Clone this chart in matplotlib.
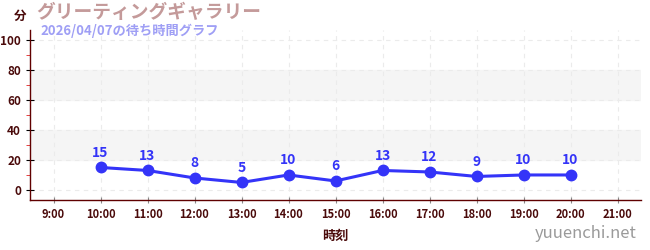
import matplotlib
matplotlib.use("Agg")
import matplotlib.pyplot as plt
from matplotlib.ticker import MultipleLocator

plt.rcParams['font.family'] = ['Noto Sans CJK JP', 'DejaVu Sans']

# data
hours = [10, 11, 12, 13, 14, 15, 16, 17, 18, 19, 20]
waits = [15, 13, 8, 5, 10, 6, 13, 12, 9, 10, 10]
tick_hours = list(range(9, 22))
tick_labels = [f"{h}:00" for h in tick_hours]

title = "グリーティングギャラリー"
subtitle = "2026/04/07の待ち時間グラフ"

blue = "#3434f8"
maroon = "#4a0a0a"

fig = plt.figure(figsize=(6.5, 2.5), dpi=100)
ax = fig.add_axes([30/650, 50/250, 611/650, 170/250])

ax.set_xlim(8.5, 21.5)
ax.set_ylim(-6.7, 106.7)

# alternating background bands
for lo in (20, 60):
    ax.axhspan(lo, lo + 20, color="#f5f5f5", zorder=0)

ax.set_xticks(tick_hours)
ax.set_xticklabels(tick_labels)
ax.yaxis.set_major_locator(MultipleLocator(20))
ax.yaxis.set_minor_locator(MultipleLocator(10))
ax.grid(True, which="major", color="#ebebeb", linestyle=(0, (4, 4)), linewidth=0.8)

for side in ("top", "right"):
    ax.spines[side].set_visible(False)
for side in ("left", "bottom"):
    ax.spines[side].set_color("#600000")
    ax.spines[side].set_linewidth(1.0)

ax.tick_params(axis="x", colors="#888888", labelcolor=maroon, labelsize=8, length=4, direction="inout")
ax.tick_params(axis="y", which="major", colors="#000000", labelcolor=maroon, labelsize=8.5, length=6, direction="inout")
ax.tick_params(axis="y", which="minor", colors="#e02020", length=3, direction="out")
for lbl in ax.get_xticklabels() + ax.get_yticklabels():
    lbl.set_fontweight("bold")

ax.plot(hours, waits, color=blue, linewidth=2.2, marker="o", markersize=7.5, zorder=3)
for h, w in zip(hours, waits):
    ax.annotate(str(w), (h, w), xytext=(0, 5.5), textcoords="offset points",
                ha="center", va="bottom", color=blue, fontsize=10, fontweight="bold")

ax.set_xlabel("時刻", color=maroon, fontsize=9.5, fontweight="bold", labelpad=6)

fig.text(20/650, 1 - 16/250, "分", color=maroon, fontsize=9, fontweight="bold", ha="center", va="center")
fig.text(36/650, 1 - 13/250, title, color="#c49a9a", fontsize=13.5, fontweight="bold", va="center")
fig.text(40/650, 1 - 31/250, subtitle, color="#9f9ff5", fontsize=9.5, fontweight="bold", va="center")
fig.text(637/650, 1 - 233/250, "yuuenchi.net", color="#9a9a9a", fontsize=12, ha="right", va="center")

fig.savefig("out.png", dpi=100)
